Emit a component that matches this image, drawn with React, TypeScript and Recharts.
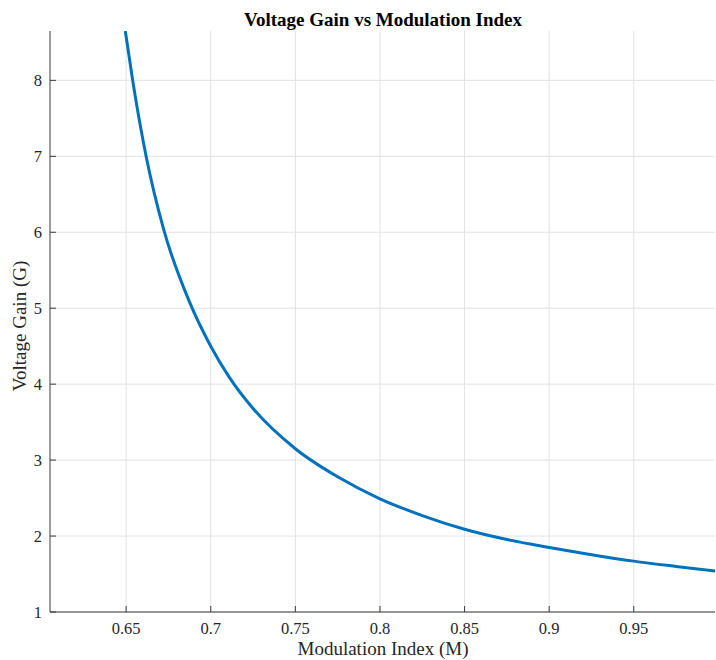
import React from 'react';
import { LineChart, Line, XAxis, YAxis, CartesianGrid } from 'recharts';

// Data
const modulationIndex = [
  0.6495, 0.654, 0.6618, 0.672, 0.6873, 0.7, 0.711, 0.725, 0.75, 0.775,
  0.8, 0.825, 0.85, 0.875, 0.9, 0.925, 0.95, 0.975, 1.0,
];
const voltageGain = [
  8.65, 7.98, 7.0, 6.05, 5.09, 4.5, 4.09, 3.68, 3.15, 2.78,
  2.49, 2.27, 2.09, 1.955, 1.85, 1.755, 1.67, 1.6, 1.535,
];
const xTicks = [0.65, 0.7, 0.75, 0.8, 0.85, 0.9, 0.95];
const xTickLabels = ['0.65', '0.7', '0.75', '0.8', '0.85', '0.9', '0.95'];
const yTicks = [1, 2, 3, 4, 5, 6, 7, 8];
const yTickLabels = ['1', '2', '3', '4', '5', '6', '7', '8'];
const xDomain = [0.605, 0.998];
const yDomain = [1, 8.65];

const titleText = 'Voltage Gain vs Modulation Index';
const xLabelText = 'Modulation Index (M)';
const yLabelText = 'Voltage Gain (G)';

const data = modulationIndex.map((m, i) => ({ m, g: voltageGain[i] }));

const AXIS = '#3a3a3a';
const TEXT = '#262626';
const FONT = '"Liberation Serif", "Times New Roman", serif';
const TICK_LEN = 6;
const TICK_FONT = 16.5;

const labelFor = (v: number, ticks: number[], labels: string[]) => {
  const i = ticks.findIndex((t) => Math.abs(t - v) < 1e-9);
  return i >= 0 ? labels[i] : String(v);
};

const BottomTick = (props: any) => {
  const { x, y, payload } = props;
  const axisY = y - 11;
  return (
    <g>
      <line x1={x} x2={x} y1={axisY} y2={axisY - TICK_LEN} stroke={AXIS} strokeWidth={1} />
      <text x={x} y={y + 11} textAnchor="middle" fontSize={TICK_FONT} fill={TEXT} fontFamily={FONT}>
        {labelFor(payload.value, xTicks, xTickLabels)}
      </text>
    </g>
  );
};

const LeftTick = (props: any) => {
  const { x, y, payload } = props;
  const axisX = x + 8;
  return (
    <g>
      <line x1={axisX} x2={axisX + TICK_LEN} y1={y} y2={y} stroke={AXIS} strokeWidth={1} />
      <text x={x} y={y} dy="0.355em" textAnchor="end" fontSize={TICK_FONT} fill={TEXT} fontFamily={FONT}>
        {labelFor(payload.value, yTicks, yTickLabels)}
      </text>
    </g>
  );
};

const TopTick = (props: any) => {
  const { x, y } = props;
  return <line x1={x} x2={x} y1={y} y2={y + TICK_LEN} stroke={AXIS} strokeWidth={1} />;
};

const RightTick = (props: any) => {
  const { x, y } = props;
  return <line x1={x} x2={x - TICK_LEN} y1={y} y2={y} stroke={AXIS} strokeWidth={1} />;
};

export default function App() {
  return (
    <div style={{ position: 'relative', width: 716, height: 660, background: '#fff' }}>
      <style>{'html, body { margin: 0; padding: 0; background: #fff; }'}</style>
      <LineChart
        width={716}
        height={660}
        data={data}
        margin={{ top: 31, right: 1, bottom: 0, left: 0 }}
      >
        <CartesianGrid
          stroke="#e2e2e2"
          strokeWidth={1}
          horizontalValues={yTicks}
          verticalValues={xTicks}
        />
        <XAxis
          dataKey="m"
          type="number"
          domain={xDomain}
          ticks={xTicks}
          allowDataOverflow
          height={48}
          tickSize={0}
          tickMargin={11}
          tick={<BottomTick />}
          axisLine={{ stroke: AXIS, strokeWidth: 1 }}
          tickLine={false}
          interval={0}
        />
        <XAxis
          xAxisId="top"
          orientation="top"
          dataKey="m"
          type="number"
          domain={xDomain}
          ticks={xTicks}
          allowDataOverflow
          height={0}
          tickSize={0}
          tickMargin={0}
          tick={<TopTick />}
          axisLine={{ stroke: AXIS, strokeWidth: 1 }}
          tickLine={false}
          interval={0}
        />
        <YAxis
          type="number"
          domain={yDomain}
          ticks={yTicks}
          allowDataOverflow
          width={50}
          tickSize={0}
          tickMargin={8}
          tick={<LeftTick />}
          axisLine={{ stroke: AXIS, strokeWidth: 1 }}
          tickLine={false}
          interval={0}
        />
        <YAxis
          yAxisId="right"
          orientation="right"
          type="number"
          domain={yDomain}
          ticks={yTicks}
          allowDataOverflow
          width={0}
          tickSize={0}
          tickMargin={0}
          tick={<RightTick />}
          axisLine={{ stroke: AXIS, strokeWidth: 1 }}
          tickLine={false}
          interval={0}
        />
        <Line
          type="monotone"
          dataKey="g"
          stroke="#0072BD"
          strokeWidth={3}
          dot={false}
          activeDot={false}
          isAnimationActive={false}
        />
      </LineChart>
      <svg
        width={716}
        height={660}
        style={{ position: 'absolute', left: 0, top: 0, pointerEvents: 'none' }}
      >
        <text x={383} y={26} textAnchor="middle" fontSize={19} fontWeight="bold" fill="#000" fontFamily={FONT}>
          {titleText}
        </text>
        <text x={383} y={655} textAnchor="middle" fontSize={19} fill={TEXT} fontFamily={FONT}>
          {xLabelText}
        </text>
        <text
          x={0}
          y={0}
          transform="translate(26 326) rotate(-90)"
          textAnchor="middle"
          fontSize={19}
          fill={TEXT}
          fontFamily={FONT}
        >
          {yLabelText}
        </text>
      </svg>
    </div>
  );
}
